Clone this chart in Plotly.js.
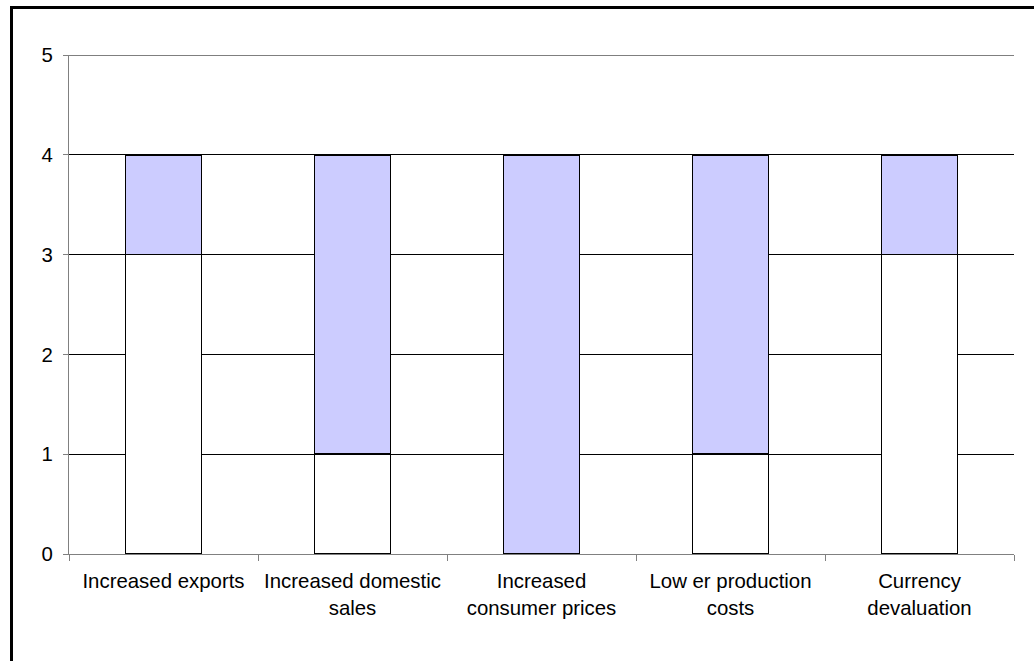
<!DOCTYPE html>
<html>
<head>
<meta charset="utf-8">
<script src="https://cdn.plot.ly/plotly-3.0.1.min.js"></script>
<style>
  html, body { margin: 0; padding: 0; background: #fff; }
  #wrap { position: relative; width: 1034px; height: 661px; overflow: hidden; }
  #frame { position: absolute; left: 10px; top: 6px; width: 1100px; height: 700px;
           border-left: 3px solid #000; border-top: 3px solid #000; pointer-events: none; z-index: 5; }
  #chart { position: absolute; left: 0; top: 0; width: 1034px; height: 661px; }
</style>
</head>
<body>
<div id="wrap">
  <div id="chart"></div>
  <div id="frame"></div>
</div>
<script>
const categories = [
  "Increased exports",
  "Increased domestic<br>sales",
  "Increased<br>consumer prices",
  "Low er production<br>costs",
  "Currency<br>devaluation"
];
const lowerValues = [3, 1, 0, 1, 3];
const upperValues = [1, 3, 4, 3, 1];
const yTicks = [0, 1, 2, 3, 4, 5];
const yMax = 5;

const traces = [
  {
    type: "bar", x: categories, y: lowerValues, name: "Series 1",
    width: 0.4,
    marker: { color: "#FFFFFF", line: { color: "#000000", width: 1.5 } },
    hoverinfo: "skip"
  },
  {
    type: "bar", x: categories, y: upperValues, name: "Series 2",
    width: 0.4,
    marker: { color: "#CCCCFF", line: { color: "#000000", width: 1.5 } },
    hoverinfo: "skip"
  }
];

const layout = {
  width: 1034, height: 661,
  margin: { l: 69, r: 20, t: 55, b: 107, pad: 0 },
  paper_bgcolor: "#FFFFFF", plot_bgcolor: "#FFFFFF",
  barmode: "stack",
  showlegend: false,
  font: { family: "Liberation Sans, Arial, sans-serif", size: 20.4, color: "#000" },
  xaxis: {
    type: "category",
    showline: true, linecolor: "#808080", linewidth: 1,
    ticks: "outside", tickson: "boundaries", ticklen: 6, tickcolor: "#808080",
    showgrid: false, zeroline: false,
    tickfont: { size: 20.4, color: "#000" },
    ticklabelstandoff: 9,
    automargin: false
  },
  yaxis: {
    range: [0, yMax], tickvals: yTicks, ticktext: yTicks.map(String),
    showline: true, linecolor: "#808080", linewidth: 1,
    ticks: "outside", ticklen: 5, tickcolor: "#808080",
    showgrid: true, gridcolor: "#000000", gridwidth: 1,
    zeroline: false,
    tickfont: { size: 20.4, color: "#000" },
    ticklabelstandoff: 6,
    automargin: false
  },
  shapes: [
    { type: "line", xref: "paper", yref: "y", x0: 0, x1: 1, y0: yMax, y1: yMax,
      line: { color: "#000000", width: 1 }, layer: "below" }
  ]
};

Plotly.newPlot("chart", traces, layout, { displayModeBar: false, staticPlot: true });
</script>
</body>
</html>
